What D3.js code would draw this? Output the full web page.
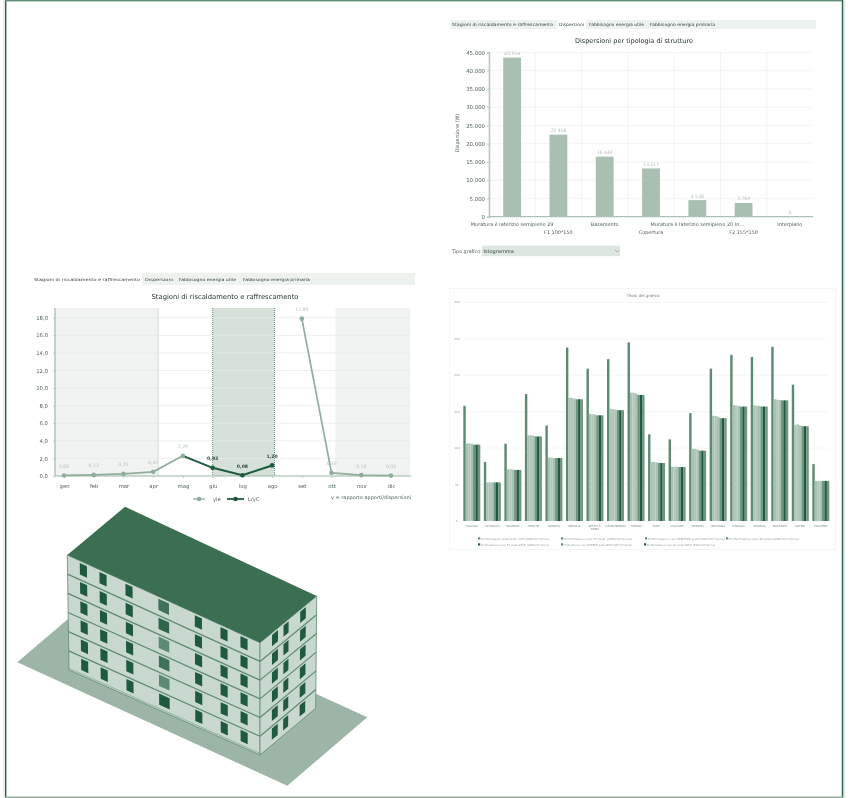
<!DOCTYPE html>
<html><head><meta charset="utf-8">
<script src="https://cdn.jsdelivr.net/npm/d3@7/dist/d3.min.js"></script>
<style>html,body{margin:0;padding:0;background:#fff}svg{display:block}text{font-family:"DejaVu Sans",sans-serif}</style>
</head><body><svg id="c" width="859" height="798"></svg>
<script>
// ---- data ----
const tabNames = ["Stagioni di riscaldamento e raffrescamento","Dispersioni","Fabbisogno energia utile","Fabbisogno energia primaria"];
const structureCategories = ["Muratura è laterizio semipieno 29","F1 100*150","Basamento","Copertura","Muratura è laterizio semipieno 20 In...","F2 155*150","Interpiano"];
const structureValues = [43554,22458,16443,13217,4538,3769,0];
const months = ["gen","feb","mar","apr","mag","giu","lug","ago","set","ott","nov","dic"];
const yieValues = [0.06,0.12,0.25,0.47,2.29,null,null,null,17.89,0.36,0.10,0.05];
const lycValues = [null,null,null,null,2.29,0.93,0.08,1.20,null,null,null,null];
const heatingSeasons = [[-0.3,3.17],[9.13,11.65]];
const coolingSeasons = [[5,7.08]];
const cities = ["ITALIANA","CASTELNU","SALERNO","TRENTO","GENOVA","BRESCIA","SESTO S.\nROMA","CAMPOBASSO","TORINO","BARI","CAGLIARI","MESSINA","BOLOGNA","PERUGIA","ANCONA","BOLZANO","NAPOLI","PALERMO"];
const perfAnte = [158,81,106,174,131,238,209,222,245,119,112,148,209,228,225,239,187,78];
const perfFv = [106.5,53,71,117.5,87,169,147,154,176,81,74.5,99,144.5,159,158.7,167,132,55];
const perfCfd = [106.5,53,71,117.5,87,169,146.5,153.5,176,81,74.5,99,144,158.5,158,166.5,132.5,55];
const perfBoth = [106,53,70.5,117,86.5,168,146,153,175,80.5,74.5,98,143,158,158,166,131,55];
const perfFvPost = [104.7,53,70,116,86.4,167,145,152,173,79.6,74,96.5,141,157,157,165.5,130,55];
const perfCfdPost = [104.7,53,70,116,86.4,167,145,152,173,79.6,74,96.5,141,157,157,165.5,130,55];
const perfAllPost = [104.7,53,70,116,86.4,167,145,152,173,79.6,74,96.5,141,157,157,165.5,130,55];
const perfSeriesNames = ["Performance post Ante (P.E (kWh/m²*anno)","Performance con FV post (kWh/m²*anno)","Performance con CFD/BFD post (kWh/m²*anno)","Performance con all post (kWh/m²*anno)","Performance con FV post 2050 (kWh/m²*anno)","Performance con CFD/BFD post 2050 (kWh/m²*anno)","Performance con all post 2050 (kWh/m²*anno)"];
const perfColors = ["#5f8a72","#a9c2b3","#b0c7ba","#a9c2b3","#6d957f","#1f5a3f","#6d957f"];
const perfTicks = [0,50,100,150,200,250,300];
const windowColumns = [[0.083,0.037],[0.185,0.037],[0.32,0.037],[0.5,0.055],[0.68,0.037],[0.813,0.037],[0.917,0.037]];
const sideWindowColumns = [[0.265,0.105],[0.46,0.09],[0.76,0.1]];
const floors = [0,1,2,3,4,5];
const centerWindowFill = ["#3f7259","#2f6549","#5a8a72","#3f7259","#5a8a72","#1f5a3f"];

// ---- helpers ----
const svg = d3.select("#c");
const fmtInt = v => d3.format(",")(v).replace(/,/g,".");
const fmtDec = d3.format(".2f"), comma = v => fmtDec(v).replace(".",",");
const G = "#5f8a72", LIGHT = "#a9c2b3", DARK = "#1f5a3f", TXT = "#4e6156";
function frame(){
  svg.append("rect").attr("x",0).attr("y",0).attr("width",859).attr("height",798).attr("fill","#fff");
  svg.append("rect").attr("x",3.5).attr("y",0).attr("width",1).attr("height",798).attr("fill","#d5dcd8");
  svg.append("rect").attr("x",5).attr("y",0).attr("width",1.4).attr("height",798).attr("fill","#2d5f47");
  svg.append("rect").attr("x",5).attr("y",0).attr("width",838).attr("height",1.4).attr("fill","#5f8f77");
  svg.append("rect").attr("x",841.8).attr("y",0).attr("width",1.4).attr("height",798).attr("fill","#2d5f47");
  svg.append("rect").attr("x",843.2).attr("y",0).attr("width",1.2).attr("height",798).attr("fill","#b9d2c4");
  svg.append("rect").attr("x",5).attr("y",796.6).attr("width",838).attr("height",1.4).attr("fill","#8fa99a");
}
frame();
const root = svg.append("g").style("filter","blur(0.55px)");
function tabs(x,y,w,h,activeIdx,starts,ends,fs){
  root.append("rect").attr("x",x).attr("y",y).attr("width",w).attr("height",h).attr("fill","#eef2ef");
  root.append("rect").attr("x",starts[activeIdx]-2).attr("y",y).attr("width",ends[activeIdx]-starts[activeIdx]+4).attr("height",h).attr("fill","#fff");
  tabNames.forEach((t,i)=>root.append("text").attr("x",starts[i]).attr("y",y+h/2+1.7).attr("font-size",fs)
    .attr("textLength",ends[i]-starts[i]).attr("lengthAdjust","spacingAndGlyphs").attr("fill","#33453b").text(t));
}
function styleAxis(g,lineCol,fs){
  g.selectAll("text").attr("font-size",fs).attr("fill",TXT).attr("font-family","DejaVu Sans");
  g.selectAll(".tick line").attr("stroke",lineCol);
  g.select(".domain").attr("stroke",lineCol);
}

// ---- bar chart ----
(function(){
  tabs(450,20,366,9,1,[452,559,589,650],[553,584,644,715],4.3);
  root.append("text").attr("x",634).attr("y",42.5).attr("text-anchor","middle").attr("font-size",6.6).attr("fill","#23362c")
    .attr("textLength",118).attr("lengthAdjust","spacingAndGlyphs").text("Dispersioni per tipologia di strutture");
  const x = d3.scaleBand().domain(structureCategories).range([489,813]).paddingInner(0.615).paddingOuter(0.3075);
  const y = d3.scaleLinear().domain([0,45000]).range([216.7,52.3]);
  const ticks = d3.range(0,45001,5000);
  root.append("g").selectAll("line").data(ticks.slice(1)).join("line").attr("x1",489).attr("x2",813)
    .attr("y1",y).attr("y2",y).attr("stroke","#eef1ef").attr("stroke-width",.8);
  const step = x.step();
  root.append("g").selectAll("line").data(structureCategories.slice(1)).join("line")
    .attr("x1",d=>x(d)+x.bandwidth()/2-step/2).attr("x2",d=>x(d)+x.bandwidth()/2-step/2)
    .attr("y1",52).attr("y2",216.7).attr("stroke","#eef1ef").attr("stroke-width",.8);
  root.append("g").selectAll("rect").data(structureCategories).join("rect")
    .attr("x",d=>x(d)).attr("width",x.bandwidth())
    .attr("y",(d,i)=>y(structureValues[i])).attr("height",(d,i)=>y(0)-y(structureValues[i]))
    .attr("fill","#a9bfb1");
  root.append("g").selectAll("text").data(structureCategories).join("text")
    .attr("x",d=>x(d)+x.bandwidth()/2).attr("y",(d,i)=>y(structureValues[i])-2.5).attr("text-anchor","middle")
    .attr("font-size",4.6).attr("fill","#b4c1ba").text((d,i)=>fmtInt(structureValues[i]));
  const ax = root.append("g").attr("transform","translate(489,0)")
    .call(d3.axisLeft(y).tickValues(ticks).tickFormat(fmtInt).tickSize(2).tickPadding(2));
  styleAxis(ax,"#b7c8be",5.4);
  ax.select(".domain").attr("stroke-width",1.6);
  root.append("line").attr("x1",489).attr("x2",813).attr("y1",216.7).attr("y2",216.7).attr("stroke","#a9c2b3").attr("stroke-width",1.2);
  root.append("g").selectAll("text.cat").data(structureCategories).join("text").attr("class","cat")
    .attr("x",d=>x(d)+x.bandwidth()/2).attr("y",(d,i)=>i%2?234:226).attr("text-anchor","middle")
    .attr("font-size",4.9).attr("fill",TXT).text(d=>d);
  root.append("text").attr("transform","translate(459,133) rotate(-90)").attr("text-anchor","middle")
    .attr("font-size",4.8).attr("fill",TXT).text("Dispersione (W)");
  root.append("text").attr("x",452).attr("y",253).attr("font-size",4.8).attr("fill",TXT).text("Tipo grafico:");
  root.append("rect").attr("x",482).attr("y",245.7).attr("width",138).attr("height",10.5).attr("fill","#dde6e0");
  root.append("text").attr("x",483.5).attr("y",252.5).attr("font-size",5).attr("fill","#33453b").text("Istogramma");
  root.append("path").attr("d","M615,250L617,252L619,250").attr("fill","none").attr("stroke","#7a8a80").attr("stroke-width",.6);
})();

// ---- line chart ----
(function(){
  tabs(33,273,382,12,0,[34,145,179,243],[140,173,236,310],4.1);
  root.append("text").attr("x",225).attr("y",298.5).attr("text-anchor","middle").attr("font-size",6.9).attr("fill","#23362c")
    .attr("textLength",147).attr("lengthAdjust","spacingAndGlyphs").text("Stagioni di riscaldamento e raffrescamento");
  const x = d3.scalePoint().domain(months).range([64,391]);
  const xi = d3.scaleLinear().domain([0,11]).range([64,391]);
  const y = d3.scaleLinear().domain([0,18]).range([476,317.7]);
  const top = 308;
  root.append("g").selectAll("rect").data(heatingSeasons).join("rect")
    .attr("x",d=>xi(d[0])).attr("width",d=>xi(d[1])-xi(d[0])).attr("y",top).attr("height",476-top).attr("fill","#f0f3f1");
  root.append("g").selectAll("rect").data(coolingSeasons).join("rect")
    .attr("x",d=>xi(d[0])).attr("width",d=>xi(d[1])-xi(d[0])).attr("y",top).attr("height",476-top).attr("fill","#d5e0d9");
  const ticks = d3.range(0,18.1,2);
  root.append("g").selectAll("line").data(ticks.slice(1)).join("line").attr("x1",55).attr("x2",410)
    .attr("y1",y).attr("y2",y).attr("stroke","#e6ebe8").attr("stroke-width",.8);
  root.append("g").selectAll("line").data([coolingSeasons[0][0],coolingSeasons[0][1]]).join("line")
    .attr("x1",xi).attr("x2",xi).attr("y1",top).attr("y2",476).attr("stroke",G).attr("stroke-width",.9).attr("stroke-dasharray","1 1");
  root.append("line").attr("x1",xi(heatingSeasons[0][1])).attr("x2",xi(heatingSeasons[0][1])).attr("y1",top).attr("y2",476).attr("stroke","#c7d4cc").attr("stroke-width",.7);
  root.append("line").attr("x1",55).attr("x2",55).attr("y1",top).attr("y2",476).attr("stroke","#b5c8bc").attr("stroke-width",1.6);
  root.append("line").attr("x1",55).attr("x2",411).attr("y1",476).attr("y2",476).attr("stroke","#8fae9c").attr("stroke-width",.9);
  const ax = root.append("g").attr("transform","translate(55,0)")
    .call(d3.axisLeft(y).tickValues(ticks).tickFormat(v=>d3.format(".1f")(v).replace(".",",")).tickSize(2).tickPadding(5));
  styleAxis(ax,"#b7c8be",5.3); ax.select(".domain").remove();
  const bx = root.append("g").attr("transform","translate(0,476)").call(d3.axisBottom(x).tickSize(2).tickPadding(6));
  styleAxis(bx,"#b7c8be",5.3); bx.select(".domain").remove();
  const line = d3.line().defined(d=>d.v!=null).x(d=>x(d.m)).y(d=>y(d.v));
  const rows = a => months.map((m,i)=>({m,v:a[i]}));
  const yRows = rows(yieValues), lRows = rows(lycValues);
  root.append("path").attr("d",line(yRows)).attr("fill","none").attr("stroke","#8fae9c").attr("stroke-width",1.7);
  root.append("path").attr("d",line(lRows)).attr("fill","none").attr("stroke","#1f5a3f").attr("stroke-width",2);
  const dia = d3.symbol().type(d3.symbolCircle).size(17);
  const lights = yRows.filter(d=>d.v!=null), darks = lRows.filter(d=>d.v!=null && d.m!=="mag");
  root.append("g").selectAll("path").data(lights).join("path").attr("d",dia)
    .attr("transform",d=>`translate(${x(d.m)},${y(d.v)})`).attr("fill","#8fae9c");
  root.append("g").selectAll("path").data(darks).join("path").attr("d",dia)
    .attr("transform",d=>`translate(${x(d.m)},${y(d.v)})`).attr("fill","#1f5a3f");
  root.append("g").selectAll("text").data(lights).join("text").attr("x",d=>x(d.m)).attr("y",d=>y(d.v)-7.5).attr("text-anchor","middle")
    .attr("font-size",4.6).attr("fill","#b4c4bb").text(d=>comma(d.v));
  root.append("g").selectAll("text").data(darks).join("text").attr("x",d=>x(d.m)).attr("y",d=>y(d.v)-7.5).attr("text-anchor","middle")
    .attr("font-size",4.6).attr("font-weight","bold").attr("fill","#2f4a3c").text(d=>comma(d.v));
  // legend
  const ly = 499;
  root.append("line").attr("x1",193).attr("x2",205).attr("y1",ly).attr("y2",ly).attr("stroke","#8fae9c").attr("stroke-width",1.3);
  root.append("path").attr("d",dia).attr("transform",`translate(199,${ly})`).attr("fill","#8fae9c");
  root.append("text").attr("x",213).attr("y",ly+2).attr("font-size",5.2).attr("fill",TXT).text("yie");
  root.append("line").attr("x1",227).attr("x2",244).attr("y1",ly).attr("y2",ly).attr("stroke","#1f5a3f").attr("stroke-width",1.8);
  root.append("path").attr("d",dia).attr("transform",`translate(235.5,${ly})`).attr("fill","#1f5a3f");
  root.append("text").attr("x",248).attr("y",ly+2).attr("font-size",5.2).attr("fill",TXT).text("L/yC");
  root.append("text").attr("x",331).attr("y",ly).attr("font-size",4.8).attr("fill",TXT)
    .attr("textLength",80).attr("lengthAdjust","spacingAndGlyphs").text("y = rapporto apporti/dispersioni");
})();

// ---- grouped bars ----
(function(){
  root.append("rect").attr("x",449.5).attr("y",288.5).attr("width",386).attr("height",261).attr("fill","#fff").attr("stroke","#f1f4f2").attr("stroke-width",.8);
  root.append("text").attr("x",643).attr("y",297).attr("text-anchor","middle").attr("font-size",3.9).attr("fill","#6b7b72").text("Titolo del grafico");
  const series = [perfAnte,perfFv,perfCfd,perfBoth,perfFvPost,perfCfdPost,perfAllPost];
  const labels = cities.map((c,i)=>i+":"+c);
  const x0 = d3.scaleBand().domain(labels).range([463.3,829.3]).paddingInner(0.172).paddingOuter(0);
  const x1 = d3.scaleBand().domain(d3.range(7)).range([0,x0.bandwidth()]);
  const y = d3.scaleLinear().domain([0,300]).range([521,302.3]);
  root.append("g").selectAll("line").data(perfTicks.slice(1)).join("line").attr("x1",463).attr("x2",829)
    .attr("y1",y).attr("y2",y).attr("stroke","#f0f3f1").attr("stroke-width",.8);
  root.append("g").selectAll("text").data(perfTicks).join("text").attr("x",457).attr("y",d=>y(d)+1).attr("text-anchor","middle")
    .attr("font-size",2.8).attr("fill","#8d9a93").text(d=>d);
  series.forEach((vals,s)=>{
    root.append("g").selectAll("rect").data(labels).join("rect")
      .attr("x",d=>x0(d)+x1(s)).attr("width",x1.bandwidth())
      .attr("y",(d,i)=>y(vals[i])).attr("height",(d,i)=>y(0)-y(vals[i])).attr("fill",perfColors[s]);
  });
  root.append("g").selectAll("text").data(labels).join("text")
    .attr("x",d=>x0(d)+x0.bandwidth()/2).attr("y",526.5).attr("text-anchor","middle").attr("font-size",2.8).attr("fill","#7d8b83")
    .each(function(d,i){
      cities[i].split("\n").forEach((t,j)=>d3.select(this).append("tspan").attr("x",x0(d)+x0.bandwidth()/2).attr("dy",j?3.4:0).text(t));
    });
  const legendX = [479,562,646,727,479,562,645];
  const legend = root.append("g").selectAll("g").data(perfSeriesNames).join("g")
    .attr("transform",(d,i)=>`translate(${legendX[i]},${i<4?538.5:544.5})`);
  legend.append("rect").attr("x",-1).attr("y",-1.2).attr("width",2.2).attr("height",2.2).attr("fill",(d,i)=>i<4?"#5f8a72":(i==4?"#1f5a3f":i==5?"#5f8a72":"#1f5a3f"));
  legend.append("text").attr("x",2.2).attr("y",1).attr("font-size",2.7).attr("fill","#8d9a93").text(d=>d)
    .attr("textLength",(d,i)=>i==3?70:i==2?77:68).attr("lengthAdjust","spacingAndGlyphs");
})();

// ---- building ----
(function(){
  const lerp = (a,b,t)=>[d3.interpolateNumber(a[0],b[0])(t),d3.interpolateNumber(a[1],b[1])(t)];
  const quad = (q,s,t)=>lerp(lerp(q[0],q[1],s),lerp(q[3],q[2],s),t);
  const front = [[67.3,555],[260,642.7],[260,755],[69,670]];
  const side = [[260,642.7],[316.7,596],[315.7,708.3],[260,755]];
  const roof = [[67.3,555],[125,506.7],[316.7,596],[260,642.7]];
  const ground = [[17.3,662.3],[97.3,594],[367.3,717.3],[287.3,785.7]];
  const poly = d3.line();
  const closed = p => poly(p)+"Z";
  root.append("path").attr("d",closed(ground)).attr("fill","#9cb5a6");
  root.append("path").attr("d",closed(front)).attr("fill","#c8d8cf").attr("stroke",G).attr("stroke-width",.8);
  root.append("path").attr("d",closed(side)).attr("fill","#c8d8cf").attr("stroke",G).attr("stroke-width",.8);
  root.append("path").attr("d",closed(roof)).attr("fill","#3a6f52");
  const g = root.append("g");
  const win = (q,s,w,r,fill)=>{
    const t0=(r+0.12)/6,t1=(r+0.72)/6;
    g.append("path").attr("d",closed([quad(q,s-w/2,t0),quad(q,s+w/2,t0),quad(q,s+w/2,t1),quad(q,s-w/2,t1)])).attr("fill",fill);
  };
  floors.forEach(r=>{
    windowColumns.forEach((c,i)=>win(front,c[0],c[1],r,i===3?centerWindowFill[r]:DARK));
    sideWindowColumns.forEach(c=>win(side,c[0],c[1],r,DARK));
  });
  d3.range(1,6).forEach(f=>{
    [front,side].forEach(q=>g.append("path").attr("d",poly([quad(q,0,f/6),quad(q,1,f/6)])).attr("fill","none").attr("stroke",G).attr("stroke-width",1.2));
  });
  g.append("path").attr("d",poly([quad(front,0,0.985),quad(front,1,0.985)])).attr("fill","none").attr("stroke",G).attr("stroke-width",.5);
})();
</script></body></html>
